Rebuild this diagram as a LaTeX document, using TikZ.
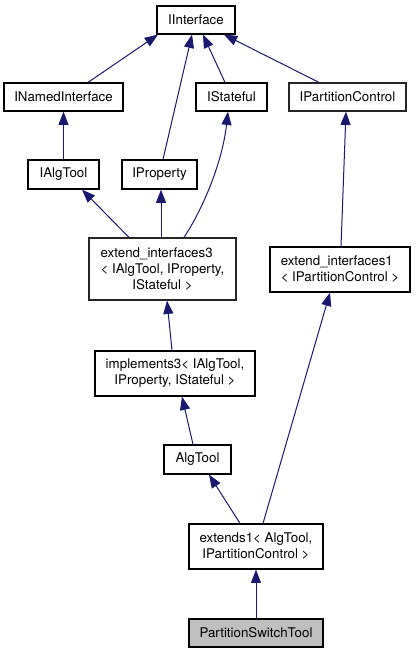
\documentclass[tikz,border=0pt]{standalone}
\usepackage{fontspec}
\setmainfont{TeX Gyre Heros}
\usetikzlibrary{arrows.meta}
\newcommand{\px}{0.75pt}
\definecolor{edgeblue}{HTML}{191970}
\definecolor{boxgray}{HTML}{BFBFBF}

\begin{document}
\begin{tikzpicture}[x=\px, y=-\px,
  cls/.style={draw=black, line width=0.9pt, inner sep=0pt, font=\fontsize{10}{12}\selectfont, fill=white},
  gcls/.style={cls, draw=black!85},
  inh/.style={draw=edgeblue, line width=0.75pt, -{Triangle[length=10pt, width=7.5pt]}}]

\useasboundingbox (0,0) rectangle (415,653);

\node [cls, minimum width=78*\px, minimum height=28*\px] (iface) at (196,20) {IInterface};
\node [cls, minimum width=119*\px, minimum height=28*\px] (named) at (63.5,97) {INamedInterface};
\node [cls, minimum width=71*\px, minimum height=28*\px] (stateful) at (231.5,97) {IStateful};
\node [gcls, minimum width=117*\px, minimum height=28*\px] (pctrl) at (347.5,97) {IPartitionControl};
\node [cls, minimum width=71*\px, minimum height=29*\px] (ialgtool) at (63.5,174.5) {IAlgTool};
\node [cls, minimum width=75*\px, minimum height=29*\px] (prop) at (159.5,174.5) {IProperty};
\node [gcls, minimum width=147*\px, minimum height=62*\px, align=left] (ext3) at (162.5,269)
  {extend\_interfaces3\\< IAlgTool, IProperty,\\\hfill IStateful >\hfill\null};
\node [cls, minimum width=140*\px, minimum height=45*\px, align=left] (ext1) at (340,269.5)
  {extend\_interfaces1\\< IPartitionControl >};
\node [cls, minimum width=160*\px, minimum height=45*\px, align=center] (impl3) at (175,373.5)
  {implements3< IAlgTool,\\ IProperty, IStateful >};
\node [cls, minimum width=67*\px, minimum height=29*\px] (algtool) at (197.5,459.5) {AlgTool};
\node [cls, minimum width=134*\px, minimum height=45*\px, align=center] (ext1alg) at (256,546.5)
  {extends1< AlgTool,\\ IPartitionControl >};
\node [cls, fill=boxgray, minimum width=134*\px, minimum height=28*\px] (pst) at (256,633) {PartitionSwitchTool};

\draw [inh] ([xshift=24.5*\px]named.north) -- ([xshift=-38*\px]iface.south);
\draw [inh] ([xshift=3.5*\px]prop.north) -- ([xshift=-4*\px]iface.south);
\draw [inh] ([xshift=-6.5*\px]stateful.north) -- ([xshift=7*\px]iface.south);
\draw [inh] ([xshift=-28.5*\px]pctrl.north) -- ([xshift=28*\px]iface.south);
\draw [inh] (ialgtool.north) -- (named.south);
\draw [inh] ([xshift=-33.5*\px]ext3.north) -- ([xshift=18.5*\px]ialgtool.south);
\draw [inh] ([xshift=-1.5*\px]ext3.north) -- ([xshift=1.5*\px]prop.south);
\draw [inh] ([xshift=21.5*\px]ext3.north) .. controls (201,212) and (222,165) .. ([xshift=-3.5*\px]stateful.south);
\draw [inh] ([xshift=1*\px]ext1.north) -- ([xshift=-1.5*\px]pctrl.south);
\draw [inh] ([xshift=-3*\px]impl3.north) -- ([xshift=4.5*\px]ext3.south);
\draw [inh] ([xshift=-4.5*\px]algtool.north) -- ([xshift=7*\px]impl3.south);
\draw [inh] ([xshift=-16*\px]ext1alg.north) -- ([xshift=11.5*\px]algtool.south);
\draw [inh] ([xshift=7*\px]ext1alg.north) -- ([xshift=-10*\px]ext1.south);
\draw [inh] (pst.north) -- (ext1alg.south);
\end{tikzpicture}
\end{document}
